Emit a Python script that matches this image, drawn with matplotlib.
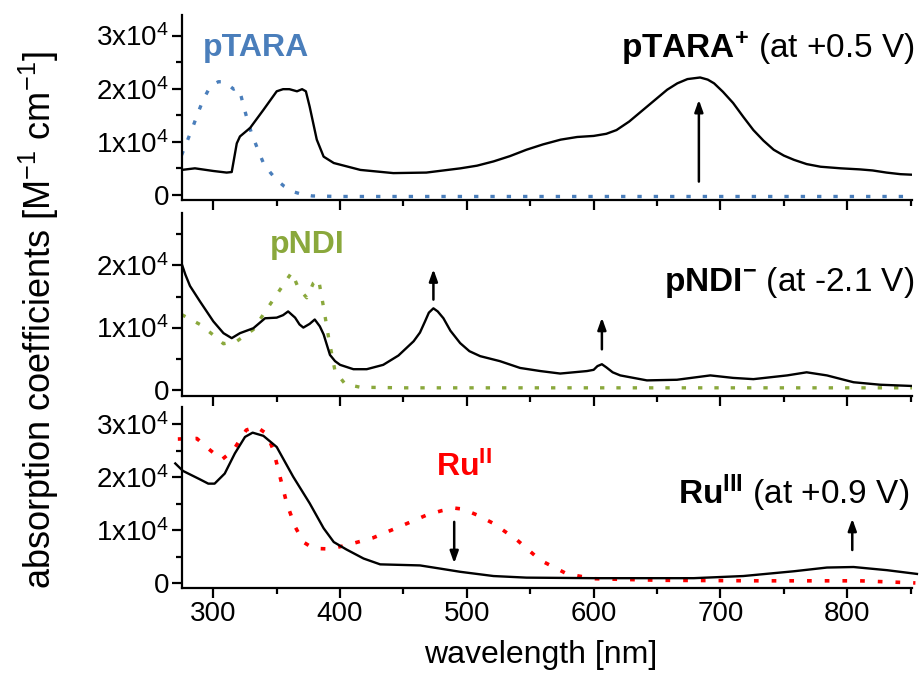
import matplotlib
matplotlib.use('Agg')
import matplotlib.pyplot as plt
from matplotlib.ticker import FixedLocator, MultipleLocator, FuncFormatter

plt.rcParams['font.family'] = ['Liberation Sans', 'DejaVu Sans']
plt.rcParams['mathtext.fontset'] = 'custom'
plt.rcParams['mathtext.rm'] = 'Liberation Sans'
plt.rcParams['mathtext.it'] = 'Liberation Sans:italic'
plt.rcParams['mathtext.bf'] = 'Liberation Sans:bold'

# absorption coefficients in units of 1e4 M^-1 cm^-1
wl_tara_ox = [270, 275, 285.5, 300, 310.5, 314.5, 318.5, 321, 329, 339.5, 350, 355, 360, 366, 370, 373,
              376, 381.6, 387, 395, 416, 442, 468, 495, 508, 521, 534, 547, 560, 574, 587, 600, 610, 618,
              628, 639, 650, 658, 666, 674, 684, 690, 695, 702, 710, 718, 726, 734, 742, 750, 758, 768,
              779, 795, 810, 820, 831, 842, 851]
eps_tara_ox = [0.46, 0.47, 0.50, 0.45, 0.42, 0.43, 0.97, 1.10, 1.26, 1.60, 1.95, 1.99, 1.99, 1.95, 1.99, 1.95,
               1.66, 1.04, 0.72, 0.60, 0.47, 0.41, 0.42, 0.50, 0.55, 0.63, 0.73, 0.85, 0.95, 1.04, 1.09, 1.11, 1.15, 1.22,
               1.38, 1.60, 1.82, 1.98, 2.10, 2.18, 2.21, 2.17, 2.10, 1.94, 1.73, 1.47, 1.22, 1.02, 0.85, 0.74, 0.66, 0.58,
               0.53, 0.50, 0.48, 0.46, 0.42, 0.39, 0.38]

wl_tara = [275, 280, 284, 288, 292, 296, 300, 304, 308, 312, 316, 318, 320, 322, 324, 327, 330, 335, 339.5,
           345, 350, 356, 363, 370, 378, 400, 500, 600, 700, 851]
eps_tara = [0.75, 1.05, 1.29, 1.55, 1.79, 1.97, 2.08, 2.13, 2.13, 2.07, 1.99, 2.01, 2.00, 1.85, 1.66, 1.40, 1.17,
            0.86, 0.60, 0.42, 0.28, 0.16, 0.06, 0.01, -0.02, -0.03, -0.03, -0.03, -0.03, -0.03]

wl_ndi_red = [275, 278, 281.6, 289.5, 300, 308, 314.5, 321, 331.6, 340.8, 350, 355, 359, 364.5, 368, 371, 376,
              380, 384, 387, 392, 396, 400, 410.5, 421, 434, 446, 458, 463, 467, 470, 473.6, 477, 481.5, 487,
              494.7, 502, 510.5, 526, 542, 558, 573.6, 594.7, 600, 603, 606.5, 610, 615, 621, 642, 665.7,
              692, 710, 726, 752.6, 768, 784, 805, 826, 851]
eps_ndi_red = [2.03, 1.85, 1.67, 1.42, 1.10, 0.91, 0.83, 0.91, 0.99, 1.15, 1.16, 1.20, 1.26, 1.16, 1.05, 1.00, 1.06,
               1.13, 1.02, 0.89, 0.56, 0.46, 0.40, 0.33, 0.33, 0.40, 0.55, 0.78, 0.92, 1.10, 1.24, 1.31, 1.26, 1.15, 0.95,
               0.75, 0.62, 0.54, 0.46, 0.35, 0.30, 0.26, 0.30, 0.32, 0.38, 0.41, 0.36, 0.28, 0.23, 0.15, 0.16,
               0.23, 0.19, 0.17, 0.23, 0.28, 0.23, 0.12, 0.08, 0.06]

wl_ndi = [275, 289.5, 300, 308, 318.5, 331.6, 342, 352.6, 361.9, 367, 373.7, 379, 383, 387, 391, 396, 404,
          415.8, 450, 600, 851]
eps_ndi = [1.21, 1.05, 0.88, 0.74, 0.78, 0.97, 1.29, 1.61, 1.89, 1.64, 1.48, 1.72, 1.78, 1.32, 0.83, 0.30, 0.09,
           0.04, 0.03, 0.03, 0.03]

wl_ru3 = [270, 276, 289.5, 296, 301, 309, 317, 325, 331, 339.5, 350, 363, 376, 387, 395, 405, 418.5, 431.6,
          463, 479, 494.7, 521, 547, 600, 679, 718, 758, 784, 805, 831.5, 855]
eps_ru3 = [2.26, 2.12, 1.96, 1.88, 1.88, 2.07, 2.45, 2.76, 2.84, 2.78, 2.57, 2.01, 1.51, 1.04, 0.78, 0.64, 0.47, 0.36,
           0.34, 0.28, 0.22, 0.14, 0.11, 0.10, 0.10, 0.14, 0.23, 0.30, 0.31, 0.25, 0.18]

wl_ru2 = [272, 287, 296, 306.6, 315.8, 326, 334, 342, 347.4, 352.6, 357.9, 364.5, 371, 379, 392, 405, 426, 447,
          468.4, 480, 490, 497, 508, 521, 539.5, 557.8, 579, 600, 652.6, 731.5, 810, 853.8]
eps_ru2 = [2.72, 2.73, 2.54, 2.33, 2.51, 2.89, 2.95, 2.82, 2.51, 2.01, 1.51, 1.07, 0.78, 0.66, 0.65, 0.72, 0.86, 1.07,
           1.29, 1.37, 1.42, 1.40, 1.29, 1.13, 0.82, 0.44, 0.18, 0.09, 0.06, 0.05, 0.05, 0.01]

# arrows: (wavelength, tail, head)
arrows_tara = [(683, 0.25, 1.79)]
arrows_ndi = [(473.6, 1.45, 1.94), (606.5, 0.65, 1.16)]
arrows_ru = [(490, 1.16, 0.38), (804, 0.63, 1.22)]

blue = '#4a7ebb'
green = '#8aa83c'
red = '#ff0000'
dots = (0, (1.3, 3.6))

fig = plt.figure(figsize=(9.22, 6.73), dpi=100)
left, width = 0.197, 0.792
ax1 = fig.add_axes([left, 0.703, width, 0.275])
ax2 = fig.add_axes([left, 0.412, width, 0.272])
ax3 = fig.add_axes([left, 0.126, width, 0.269])


def sci(v, pos):
    return '0' if v == 0 else '%dx10$^4$' % v


for ax, ylim, yt in [(ax1, (-0.094, 3.39), [0, 1, 2, 3]),
                     (ax2, (-0.097, 2.85), [0, 1, 2]),
                     (ax3, (-0.089, 3.32), [0, 1, 2, 3])]:
    ax.set_xlim(275, 851)
    ax.set_ylim(*ylim)
    ax.spines['top'].set_visible(False)
    ax.spines['right'].set_visible(False)
    ax.spines['left'].set_linewidth(1.6)
    ax.spines['bottom'].set_linewidth(1.6)
    ax.xaxis.set_major_locator(MultipleLocator(100))
    ax.xaxis.set_minor_locator(MultipleLocator(50))
    ax.yaxis.set_major_locator(FixedLocator(yt))
    ax.yaxis.set_minor_locator(MultipleLocator(0.5))
    ax.yaxis.set_major_formatter(FuncFormatter(sci))
    ax.tick_params(which='major', direction='out', length=7, width=1.6, labelsize=20, pad=2)
    ax.tick_params(which='minor', direction='out', length=4, width=1.6)
    if ax is not ax3:
        ax.tick_params(axis='x', labelbottom=False)


def add_arrows(ax, arrows):
    for x, y0, y1 in arrows:
        ax.annotate('', xy=(x, y1), xytext=(x, y0),
                    arrowprops=dict(arrowstyle='-|>,head_length=0.7,head_width=0.25',
                                    color='black', lw=1.8, shrinkA=0, shrinkB=0))


# pTARA / pTARA+
ax1.plot(wl_tara, eps_tara, color=blue, lw=2.4, ls=dots)
ax1.plot(wl_tara_ox, eps_tara_ox, color='black', lw=1.7)
add_arrows(ax1, arrows_tara)
ax1.text(334, 0.82, 'pTARA', transform=ax1.get_xaxis_transform(), color=blue,
         fontsize=23, fontweight='bold', ha='center', va='center')
ax1.text(1.004, 0.82, r'$\mathbf{pTARA^{+}}$ (at +0.5 V)', transform=ax1.transAxes,
         fontsize=24, ha='right', va='center')

# pNDI / pNDI-
ax2.plot(wl_ndi, eps_ndi, color=green, lw=2.4, ls=dots)
ax2.plot(wl_ndi_red, eps_ndi_red, color='black', lw=1.7)
add_arrows(ax2, arrows_ndi)
ax2.text(374, 0.825, 'pNDI', transform=ax2.get_xaxis_transform(), color=green,
         fontsize=23, fontweight='bold', ha='center', va='center')
ax2.text(1.004, 0.62, r'$\mathbf{pNDI^{-}}$ (at -2.1 V)', transform=ax2.transAxes,
         fontsize=24, ha='right', va='center')

# Ru(II) / Ru(III)
ax3.plot(wl_ru2, eps_ru2, color=red, lw=2.6, ls=dots, clip_on=False)
ax3.plot(wl_ru3, eps_ru3, color='black', lw=1.7, clip_on=False)
add_arrows(ax3, arrows_ru)
ax3.text(498, 0.67, r'$\mathbf{Ru^{II}}$', transform=ax3.get_xaxis_transform(), color=red,
         fontsize=23, ha='center', va='center')
ax3.text(0.997, 0.525, r'$\mathbf{Ru^{III}}$ (at +0.9 V)', transform=ax3.transAxes,
         fontsize=24, ha='right', va='center')

fig.text(0.586, 0.027, 'wavelength [nm]', fontsize=23, ha='center', va='center')
fig.text(0.042, 0.525, 'absorption coefficients [M$^{-1}$ cm$^{-1}$]', fontsize=26,
         rotation=90, ha='center', va='center')

fig.savefig('out.png', dpi=100)
